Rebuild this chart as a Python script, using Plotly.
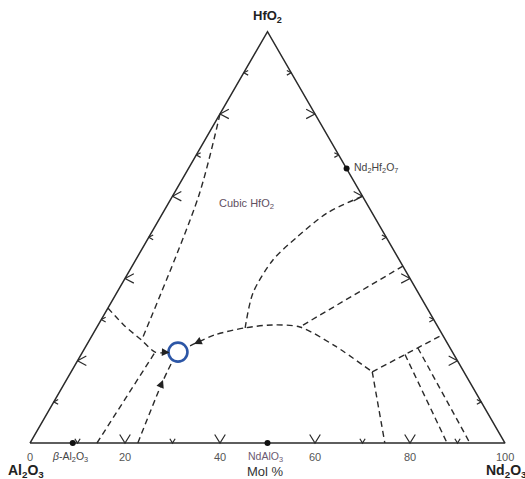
import numpy as np
import plotly.graph_objects as go

S = np.sqrt(3) / 2

# ---------------- data (compositions in mol%: Nd2O3, HfO2) ----------------
tick_vals = [0, 20, 40, 60, 80, 100]
tick_text = ["0", "20", "40", "60", "80", "100"]

edge_mark_vals = [10, 20, 30, 40, 50, 60, 70, 80, 90]
base_mark_vals = [10, 20, 30, 40, 60, 70, 80, 90]
big_mark_vals = [20, 40, 60, 80]

tri_nd = [0, 100, 0, 0]
tri_hf = [0, 0, 100, 0]

comp_names = ["β-Al<sub>2</sub>O<sub>3</sub>", "NdAlO<sub>3</sub>", "Nd<sub>2</sub>Hf<sub>2</sub>O<sub>7</sub>"]
comp_nd = [9.0, 50.0, 33.3]
comp_hf = [0.0, 0.0, 66.7]

# curved boundaries
bA_nd = [0.0, 5.5, 11.0]
bA_hf = [80.0, 60.0, 25.0]
bB_nd = [0.0, 5.8, 11.0, 15.3, 18.4]
bB_hf = [32.8, 28.4, 25.0, 22.1, 22.0]
bC_nd = [14.1, 15.3]
bC_hf = [0.0, 22.1]
bD_nd = [22.7, 20.5, 20.05]
bD_hf = [0.0, 14.6, 19.7]
dome_nd = [21.9, 25.8, 31.3, 36.6, 42.7, 52.4, 63.4]
dome_hf = [23.6, 26.3, 28.0, 28.7, 28.2, 23.6, 17.3]
upper_nd = [40.0, 34.6, 31.2, 28.9, 28.7, 31.3]
upper_hf = [60.0, 55.9, 50.1, 44.5, 36.5, 28.0]
# straight boundaries
straight_nd = [[57.0, 42.7], [63.4, 74.7], [63.4, 73.7], [68.2, 87.8], [70.1, 92.6]]
straight_hf = [[43.0, 28.2], [17.3, 0.0], [17.3, 26.3], [21.5, 0.0], [23.1, 0.0]]

eutectic_nd = [20.1]
eutectic_hf = [22.1]

# arrows on boundaries: tip and tail compositions
arrow_tip_nd = [18.4, 22.5, 20.35]
arrow_tip_hf = [22.0, 24.07, 15.3]
arrow_tail_nd = [17.2, 23.6, 20.55]
arrow_tail_hf = [22.05, 24.9, 14.0]


def xy(nd, hf):
    nd = np.asarray(nd, float)
    hf = np.asarray(hf, float)
    return nd + hf / 2, hf * S


PX = 4.75  # pixels per mol% unit
LINE = "#2a2a2a"
DASH = "6px,4px"

fig = go.Figure()

# triangle
x, y = xy(tri_nd, tri_hf)
fig.add_trace(go.Scatter(x=x, y=y, mode="lines", line=dict(color=LINE, width=1.5),
                         hoverinfo="skip", showlegend=False))

# edge chevrons
mx, my = [], []
for v in base_mark_vals:
    L = (10 if v in big_mark_vals else 5) / PX
    X, Y = xy([v], [0])
    X, Y = X[0], Y[0]
    a = np.radians(32)
    mx += [X - L * np.sin(a), X, X + L * np.sin(a), None]
    my += [Y + L * np.cos(a), Y, Y + L * np.cos(a), None]
for v in edge_mark_vals:
    L = (10 if v in big_mark_vals else 5) / PX
    a = np.radians(28)
    # left edge (Al2O3-HfO2), v = mol% HfO2
    X, Y = xy([0], [v])
    X, Y = X[0], Y[0]
    mx += [X + L * np.cos(a), X, X + L * np.cos(a), None]
    my += [Y + L * np.sin(a), Y, Y - L * np.sin(a), None]
    # right edge (HfO2-Nd2O3), v = mol% Nd2O3
    X, Y = xy([v], [100 - v])
    X, Y = X[0], Y[0]
    mx += [X - L * np.cos(a), X, X - L * np.cos(a), None]
    my += [Y + L * np.sin(a), Y, Y - L * np.sin(a), None]
fig.add_trace(go.Scatter(x=mx, y=my, mode="lines", line=dict(color=LINE, width=1.2),
                         hoverinfo="skip", showlegend=False))

# dashed boundaries
for nd, hf, shape in [(bA_nd, bA_hf, "spline"), (bB_nd, bB_hf, "spline"),
                      (bC_nd, bC_hf, "linear"), (bD_nd, bD_hf, "spline"),
                      (dome_nd, dome_hf, "spline"), (upper_nd, upper_hf, "spline")] + \
                     [(a, b, "linear") for a, b in zip(straight_nd, straight_hf)]:
    x, y = xy(nd, hf)
    fig.add_trace(go.Scatter(x=x, y=y, mode="lines",
                             line=dict(color=LINE, width=1.4, dash=DASH, shape=shape, smoothing=0.8),
                             hoverinfo="skip", showlegend=False))

# compounds
x, y = xy(comp_nd, comp_hf)
fig.add_trace(go.Scatter(x=x, y=y, mode="markers", marker=dict(color="#111", size=6),
                         hoverinfo="skip", showlegend=False))

# eutectic circle
x, y = xy(eutectic_nd, eutectic_hf)
fig.add_trace(go.Scatter(x=x, y=y, mode="markers",
                         marker=dict(symbol="circle-open", size=19, color="#2c56a6",
                                     line=dict(width=2.6, color="#2c56a6")),
                         hoverinfo="skip", showlegend=False))

ann = []
# arrowheads
tx, ty = xy(arrow_tip_nd, arrow_tip_hf)
sx, sy = xy(arrow_tail_nd, arrow_tail_hf)
for a, b, c, d in zip(tx, ty, sx, sy):
    ann.append(dict(x=a, y=b, ax=c, ay=d, xref="x", yref="y", axref="x", ayref="y",
                    text="", showarrow=True, arrowhead=2, arrowsize=1.3, arrowwidth=1.2,
                    arrowcolor="#222"))

FONT = "Liberation Sans"
# bottom tick labels
for v, t in zip(tick_vals, tick_text):
    X, Y = xy([v], [0])
    ann.append(dict(x=X[0], y=Y[0], xref="x", yref="y", text=t, showarrow=False,
                    yanchor="middle", yshift=-14, font=dict(family=FONT, size=11, color="#555")))

# compound labels
X, Y = xy(comp_nd, comp_hf)
ann.append(dict(x=X[0] - 0.5, y=Y[0], xref="x", yref="y", text="<i>β</i>-Al<sub>2</sub>O<sub>3</sub>",
                showarrow=False, yanchor="middle", yshift=-14,
                font=dict(family=FONT, size=10.5, color="#444")))
ann.append(dict(x=X[1] - 0.4, y=Y[1], xref="x", yref="y", text=comp_names[1], showarrow=False,
                yanchor="middle", yshift=-14, font=dict(family=FONT, size=10.5, color="#6b5a72")))
ann.append(dict(x=X[2], y=Y[2], xref="x", yref="y", text=comp_names[2], showarrow=False,
                xanchor="left", yanchor="middle", xshift=5, yshift=1,
                font=dict(family=FONT, size=10.5, color="#444")))

# vertex labels
X, Y = xy([0, 100, 0], [0, 0, 100])
ann.append(dict(x=X[0], y=Y[0], xref="x", yref="y", text="<b>Al<sub>2</sub>O<sub>3</sub></b>",
                showarrow=False, yanchor="middle", yshift=-28, xshift=-4,
                font=dict(family=FONT, size=14, color="#222")))
ann.append(dict(x=X[1], y=Y[1], xref="x", yref="y", text="<b>Nd<sub>2</sub>O<sub>3</sub></b>",
                showarrow=False, xanchor="left", yanchor="middle", yshift=-28, xshift=-21,
                font=dict(family=FONT, size=14, color="#222")))
ann.append(dict(x=X[2], y=Y[2], xref="x", yref="y", text="<b>HfO<sub>2</sub></b>",
                showarrow=False, yanchor="middle", yshift=15,
                font=dict(family=FONT, size=13, color="#222")))

# axis title
X, Y = xy([50], [0])
ann.append(dict(x=X[0] - 0.4, y=Y[0], xref="x", yref="y", text="Mol %", showarrow=False,
                yanchor="middle", yshift=-28, font=dict(family=FONT, size=13, color="#333")))

# phase field label
X, Y = xy([16.5], [58.0])
ann.append(dict(x=X[0], y=Y[0], xref="x", yref="y", text="Cubic HfO<sub>2</sub>", showarrow=False,
                yanchor="middle", font=dict(family=FONT, size=11, color="#62505f")))

fig.update_layout(
    width=525, height=479, autosize=False,
    margin=dict(l=0, r=0, t=0, b=0),
    paper_bgcolor="white", plot_bgcolor="white",
    xaxis=dict(range=[-30 / PX, (525 - 30) / PX], visible=False, fixedrange=True),
    yaxis=dict(range=[-(479 - 443) / PX, 443 / PX], visible=False, fixedrange=True),
    annotations=ann,
    showlegend=False,
)

fig.write_html("out.html")
